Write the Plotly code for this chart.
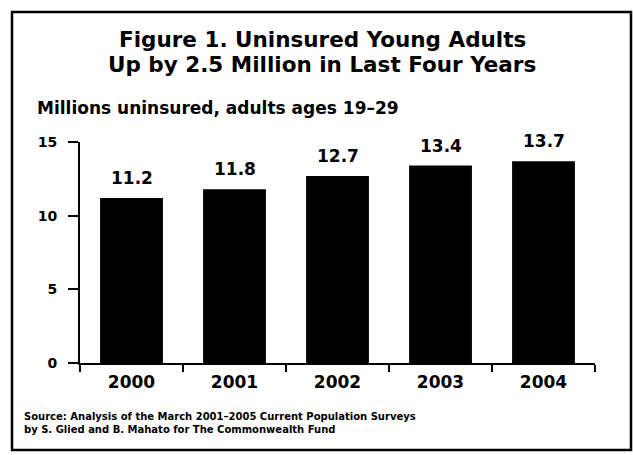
import plotly.graph_objects as go

years = ["2000", "2001", "2002", "2003", "2004"]
uninsured = [11.2, 11.8, 12.7, 13.4, 13.7]
value_labels = ["11.2", "11.8", "12.7", "13.4", "13.7"]
y_ticks = [0, 5, 10, 15]

W, H = 633, 455
L, R, T, B = 80, 38, 142, 92
pw, ph = W - L - R, H - T - B

def px(x):
    return (x - L) / pw

def py(y):
    return (H - B - y) / ph

BOLD = "DejaVu Sans"

fig = go.Figure(go.Bar(
    x=years, y=uninsured,
    marker=dict(color="black", line=dict(width=0)),
    cliponaxis=False,
))

annotations = [
    dict(text=lab, x=i, y=v, xref="x", yref="y", xanchor="center", yanchor="bottom",
         yshift=8, showarrow=False,
         font=dict(family=BOLD, size=17, color="black", weight="bold"))
    for i, (v, lab) in enumerate(zip(uninsured, value_labels))
]

annotations += [
    dict(text="<b>Figure 1. Uninsured Young Adults</b>",
         xref="paper", yref="paper", x=px(322), y=py(39), xanchor="center", yanchor="middle",
         showarrow=False, font=dict(family=BOLD, size=21.5, color="black")),
    dict(text="<b>Up by 2.5 Million in Last Four Years</b>",
         xref="paper", yref="paper", x=px(322), y=py(65), xanchor="center", yanchor="middle",
         showarrow=False, font=dict(family=BOLD, size=21.5, color="black")),
    dict(text="<b>Millions uninsured, adults ages 19–29</b>",
         xref="paper", yref="paper", x=px(35), y=py(108), xanchor="left", yanchor="middle",
         showarrow=False, font=dict(family=BOLD, size=17, color="black")),
    dict(text="<b>Source: Analysis of the March 2001–2005 Current Population Surveys</b>",
         xref="paper", yref="paper", x=px(22), y=py(416), xanchor="left", yanchor="middle",
         showarrow=False, font=dict(family=BOLD, size=10, color="black")),
    dict(text="<b>by S. Glied and B. Mahato for The Commonwealth Fund</b>",
         xref="paper", yref="paper", x=px(22), y=py(429), xanchor="left", yanchor="middle",
         showarrow=False, font=dict(family=BOLD, size=10, color="black")),
]

fig.update_layout(
    width=W, height=H,
    margin=dict(l=L, r=R, t=T, b=B),
    paper_bgcolor="white", plot_bgcolor="white",
    bargap=0.39,
    showlegend=False,
    font=dict(family=BOLD, color="black"),
    xaxis=dict(
        type="category", range=[-0.5, len(years) - 0.5],
        showline=True, linecolor="black", linewidth=2,
        ticks="outside", tickson="boundaries", ticklen=7, tickwidth=2, tickcolor="black",
        ticklabelstandoff=3,
        tickfont=dict(family=BOLD, size=17, color="black", weight="bold"),
        showgrid=False, zeroline=False,
    ),
    yaxis=dict(
        range=[0, 15], tickvals=y_ticks,
        showline=True, linecolor="black", linewidth=2,
        ticks="outside", ticklen=10, tickwidth=2, tickcolor="black",
        ticklabelstandoff=8,
        tickfont=dict(family=BOLD, size=14, color="black", weight="bold"),
        showgrid=False, zeroline=False,
    ),
    shapes=[dict(
        type="rect", xref="paper", yref="paper",
        x0=px(12), x1=px(631), y0=py(450), y1=py(12),
        line=dict(color="black", width=2.5), fillcolor="rgba(0,0,0,0)",
        layer="below",
    )],
    annotations=annotations,
)

fig.write_html("out.html")
